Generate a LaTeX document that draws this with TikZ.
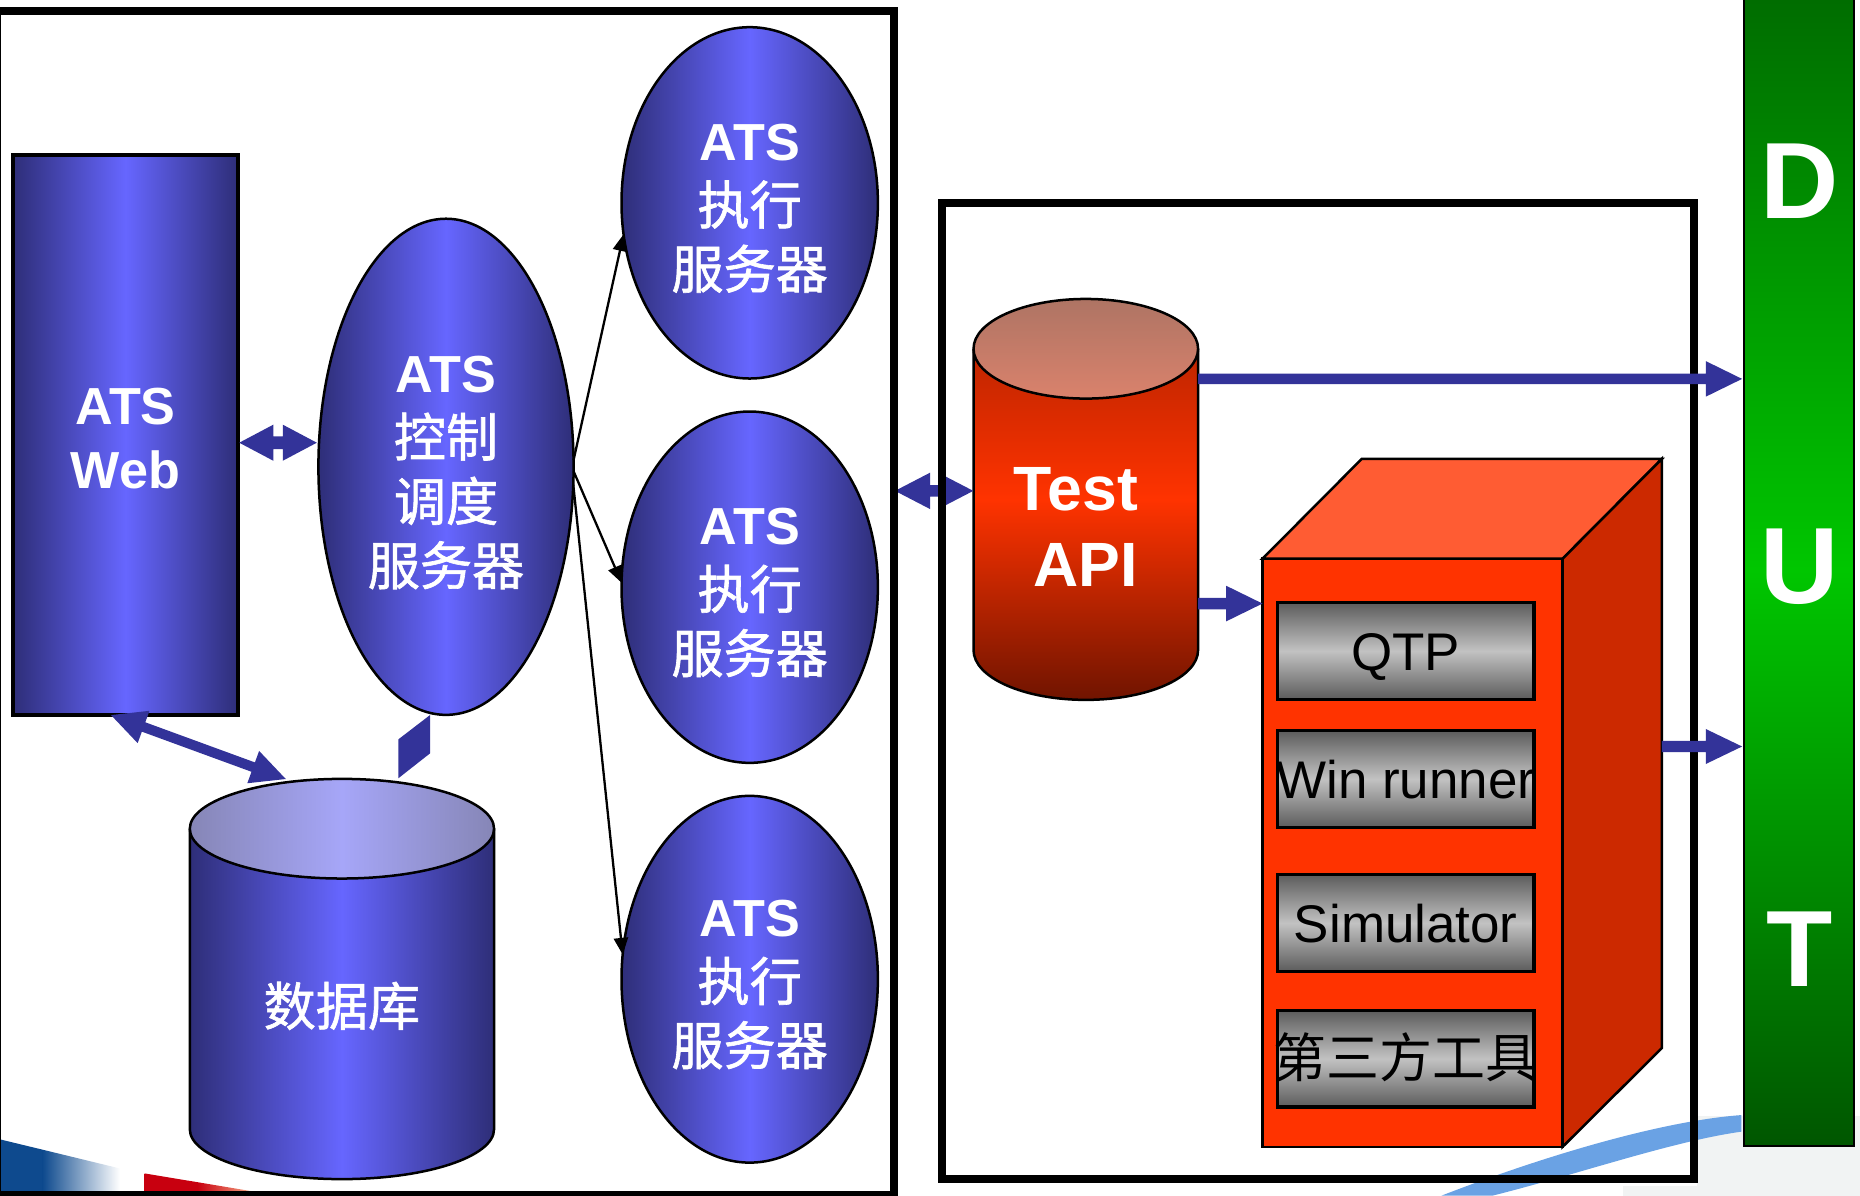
\documentclass[tikz,border=0pt]{standalone}
\usepackage{fontspec}
\setmainfont{Liberation Sans}
\newfontfamily\cjk{Noto Sans CJK SC}
\newfontfamily\cjkb{Noto Sans CJK SC}[FakeBold=1.2]
\usetikzlibrary{shapes.geometric,arrows.meta,calc}

\definecolor{ablue}{HTML}{333399}
\definecolor{odark}{HTML}{2E2E78}
\definecolor{obright}{HTML}{6666FF}
\definecolor{lavdark}{HTML}{8686B6}
\definecolor{lavlight}{HTML}{A6A6F8}
\definecolor{redtop}{HTML}{A82000}
\definecolor{redmid}{HTML}{FF3300}
\definecolor{redbot}{HTML}{701400}
\definecolor{captop}{HTML}{AE7464}
\definecolor{capbot}{HTML}{DA826C}
\definecolor{boxfront}{HTML}{FF3300}
\definecolor{boxtop}{HTML}{FF5C33}
\definecolor{boxside}{HTML}{CC2900}
\definecolor{tooldark}{HTML}{5C5C5C}
\definecolor{toollight}{HTML}{C2C2C2}
\definecolor{gtop}{HTML}{006C00}
\definecolor{gmid}{HTML}{00C600}
\definecolor{gbot}{HTML}{005600}
\definecolor{decoblue}{HTML}{0E4A8E}
\definecolor{decored}{HTML}{C8000F}
\definecolor{decoredlight}{HTML}{F4A080}
\definecolor{bandblue}{HTML}{6AA2E4}
\definecolor{paleg}{HTML}{F1F3F3}

% double-headed block arrow: #1 tip A, #2 tip B, #3 head length, #4 head half width, #5 shaft half width
\newcommand\dblarrow[5]{%
  \fill[ablue] (#1) -- ($(#1)!#3!(#2)!#4!90:(#2)$) -- ($(#1)!#3!(#2)!#5!90:(#2)$)
    -- ($(#2)!#3!(#1)!#5!-90:(#1)$) -- ($(#2)!#3!(#1)!#4!-90:(#1)$) -- (#2)
    -- ($(#2)!#3!(#1)!#4!90:(#1)$) -- ($(#2)!#3!(#1)!#5!90:(#1)$)
    -- ($(#1)!#3!(#2)!#5!-90:(#2)$) -- ($(#1)!#3!(#2)!#4!-90:(#2)$) -- cycle;}
% single block arrow: #1 start, #2 tip
\newcommand\sglarrow[5]{%
  \fill[ablue] ($(#1)!#5!90:(#2)$) -- ($(#2)!#3!(#1)!#5!-90:(#1)$) -- ($(#2)!#3!(#1)!#4!-90:(#1)$)
    -- (#2) -- ($(#2)!#3!(#1)!#4!90:(#1)$) -- ($(#2)!#3!(#1)!#5!90:(#1)$)
    -- ($(#1)!#5!-90:(#2)$) -- cycle;}
\newcommand\toprule[1]{\rule{0pt}{#1}}

\begin{document}
\begin{tikzpicture}[x=0.01cm, y=-0.01cm,
  oval/.style={ellipse, draw=black, line width=0.6pt, inner sep=0pt, outer sep=0pt,
    left color=odark, right color=odark, middle color=obright, text=white, align=center,
    font=\fontsize{12.5}{15.4}\selectfont},
  conn/.style={draw=black, line width=0.55pt, -{Triangle[length=4pt,width=3.4pt]}},
  bigframe/.style={draw=black, line width=1.85pt},
  tool/.style={rectangle, draw=black, line width=0.8pt, top color=tooldark, bottom color=tooldark,
    middle color=toollight, minimum width=2.158cm, minimum height=0.815cm, inner sep=0pt,
    outer sep=0pt, text height=9.2pt, text depth=0pt, font=\fontsize{12.7}{15}\selectfont},
  dutletter/.style={text=white, font=\fontsize{26}{30}\selectfont\bfseries, inner sep=0pt},
  outline/.style={draw=black, line width=0.6pt}
]
\useasboundingbox (0,0) rectangle (1568,1008);

% background decorations
\fill[paleg] (1431,941) rectangle (1568,1008);
\fill[paleg] (1368,1000) rectangle (1431,1008);
\fill[bandblue] (1468,940) .. controls (1400,945) and (1300,975) .. (1215,1008)
  -- (1258,1008) .. controls (1330,990) and (1410,962) .. (1468,954) -- cycle;
\fill[decoblue] (0,960.5) -- (36,969.2) -- (36,1008) -- (0,1008) -- cycle;
\shade[left color=decoblue, right color=white] (36,969.2) -- (101,985) -- (101,1008) -- (36,1008) -- cycle;
\shade[left color=decored, right color=decoredlight, middle color=decored] (122,989.2) -- (211,1004) -- (122,1004) -- cycle;

% ATS Web
\node[rectangle, draw=black, line width=0.8pt, left color=odark, right color=odark, middle color=obright,
  minimum width=1.895cm, minimum height=4.719cm, inner sep=0pt, outer sep=0pt, text=white, align=center,
  font=\fontsize{12.5}{15.4}\selectfont\bfseries] (web) at (105.75,366.65) {\toprule{10.3pt}ATS\\Web};

% control server
\node[oval, minimum width=2.15cm, minimum height=4.18cm] (ctrl) at (376,393.5)
  {\toprule{11.5pt}\textbf{ATS}\\{\cjkb 控制}\\{\cjkb 调度}\\{\cjkb 服务器}};

% execution servers
\node[oval, minimum width=2.16cm, minimum height=2.96cm] (e1) at (632,171)
  {\toprule{11.3pt}\textbf{ATS}\\{\cjkb 执行}\\{\cjkb 服务器}};
\node[oval, minimum width=2.16cm, minimum height=2.96cm] (e2) at (632,495)
  {\toprule{11.3pt}\textbf{ATS}\\{\cjkb 执行}\\{\cjkb 服务器}};
\node[oval, minimum width=2.16cm, minimum height=3.09cm] (e3) at (632,825.5)
  {\toprule{11.3pt}\textbf{ATS}\\{\cjkb 执行}\\{\cjkb 服务器}};

% database cylinder
\shade[left color=odark, right color=odark, middle color=obright]
  (160,698.6) -- (160,952) arc[start angle=180, end angle=0, x radius=128.25, y radius=42]
  -- (416.5,698.6) arc[start angle=0, end angle=-180, x radius=128.25, y radius=42] -- cycle;
\draw[outline] (160,698.6) -- (160,952) arc[start angle=180, end angle=0, x radius=128.25, y radius=42] -- (416.5,698.6);
\shade[left color=lavdark, right color=lavdark, middle color=lavlight]
  (288.25,698.6) ellipse[x radius=128.25, y radius=42];
\draw[outline] (288.25,698.6) ellipse[x radius=128.25, y radius=42];
\node[text=white, font={\fontsize{12.5}{15}\selectfont\cjkb}, inner sep=0pt] (dbtxt) at (288.25,848) {数据库};

% Test API cylinder
\shade[top color=redtop, bottom color=redbot, middle color=redmid]
  (820.7,294) -- (820.7,548) arc[start angle=180, end angle=0, x radius=94.65, y radius=42]
  -- (1010,294) arc[start angle=0, end angle=-180, x radius=94.65, y radius=42] -- cycle;
\draw[outline] (820.7,294) -- (820.7,548) arc[start angle=180, end angle=0, x radius=94.65, y radius=42] -- (1010,294);
\shade[top color=captop, bottom color=capbot] (915.35,294) ellipse[x radius=94.65, y radius=42];
\draw[outline] (915.35,294) ellipse[x radius=94.65, y radius=42];
\node[text=white, font=\fontsize{15}{18.2}\selectfont\bfseries, align=right, anchor=east, inner sep=0pt]
  (apitxt) at (960,444) {Test\\API};

% tool box
\filldraw[fill=boxfront, draw=black, line width=0.6pt] (1064.3,471) rectangle (1317.3,966.8);
\filldraw[fill=boxtop, draw=black, line width=0.6pt] (1064.3,471) -- (1148,386.8) -- (1401,386.8) -- (1317.3,471) -- cycle;
\filldraw[fill=boxside, draw=black, line width=0.6pt] (1317.3,471) -- (1401,386.8) -- (1401,883.5) -- (1317.3,966.8) -- cycle;
\node[tool] (qtp) at (1185.1,548.7) {QTP};
\node[tool] (win) at (1185.1,656.65) {\makebox[0pt]{Win runner}};
\node[tool] (sim) at (1185.1,778.1) {Simulator};
\node[tool] (third) at (1185.1,892.5) {\makebox[0pt]{\cjk 第三方工具}};

% DUT
\node[rectangle, draw=black, line width=0.5pt, top color=gtop, bottom color=gbot, middle color=gmid,
  minimum width=0.93cm, minimum height=9.71cm, inner sep=0pt, outer sep=0pt] (dut) at (1516.5,480.5) {};
\node[dutletter] (dD) at (1517,153) {D};
\node[dutletter] (dU) at (1517,478) {U};
\node[dutletter] (dT) at (1517,800) {T};

% arrow between the frames (under frame lines)
\coordinate (fa) at (754.5,413.8);
\coordinate (fb) at (820.5,413.8);
\dblarrow{fa}{fb}{0.295cm}{0.153cm}{0.049cm}

% frames
\draw[bigframe] (-2,9) rectangle (753.5,1007);
\draw[bigframe] (794,171.3) rectangle (1427.8,993.8);

% block arrows
\coordinate (wa) at (201.7,373.2);
\coordinate (wb) at (267.1,373.2);
\dblarrow{wa}{wb}{0.287cm}{0.152cm}{0.0535cm}
\coordinate (da) at (93.6,602.8);
\coordinate (db) at (240.9,656.7);
\dblarrow{da}{db}{0.292cm}{0.145cm}{0.042cm}
\fill[ablue] (362.5,602.8) -- (362.5,635.1) -- (335.8,656.1) -- (335.8,623.3) -- cycle;

\coordinate (t1a) at (1010,319.4);
\coordinate (t1b) at (1468.6,319.4);
\sglarrow{t1a}{t1b}{0.306cm}{0.15cm}{0.045cm}
\coordinate (t2a) at (1010,508.8);
\coordinate (t2b) at (1064.3,508.8);
\sglarrow{t2a}{t2b}{0.306cm}{0.15cm}{0.048cm}
\coordinate (t3a) at (1401,629.3);
\coordinate (t3b) at (1468.6,629.3);
\sglarrow{t3a}{t3b}{0.306cm}{0.1475cm}{0.048cm}

% control -> execution connectors
\draw[conn] (ctrl.3) -- (e1.194);
\draw[conn] (ctrl.-2) -- (e2.178);
\draw[conn] (ctrl.-8) -- (e3.169);
\end{tikzpicture}
\end{document}
